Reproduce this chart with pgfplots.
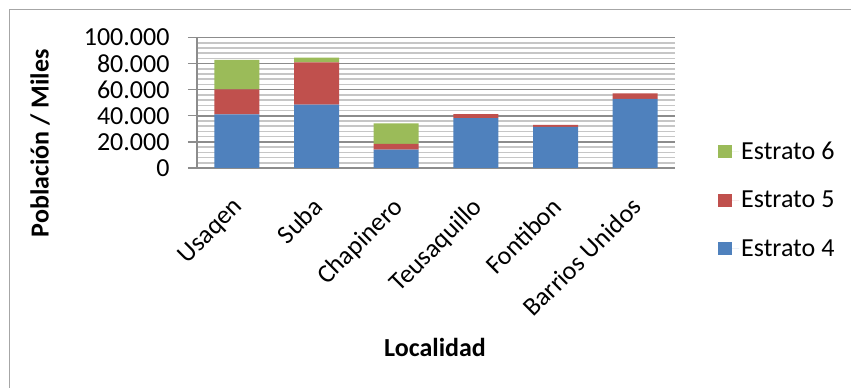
\documentclass[border=0pt]{standalone}
\usepackage{fontspec}
\setmainfont{Carlito}
\usepackage{pgfplots}
\pgfplotsset{compat=1.18}
\definecolor{est4}{HTML}{4F81BD}
\definecolor{est5}{HTML}{C0504D}
\definecolor{est6}{HTML}{9BBB59}
\definecolor{gridmaj}{HTML}{8C8C8C}
\definecolor{gridmin}{HTML}{C6C6C6}
\newcommand{\chartfont}{\fontsize{26bp}{30bp}\selectfont}
% square legend swatch, with a little room before the text
\pgfplotsset{sq legend/.style={legend image code/.code={%
  \fill[##1] (0bp,-6.5bp) rectangle (14bp,6.5bp);
  \path (0bp,0bp) -- (21bp,0bp);}}}

\begin{document}
\begin{tikzpicture}
\useasboundingbox (0,0) rectangle (851bp,388bp);
\draw[color=gray!70, line width=1.2bp] (9.5bp,0) -- (9.5bp,378.5bp) -- (851bp,378.5bp);
\begin{axis}[
  at={(197bp,220bp)}, anchor=south west,
  width=478bp, height=130.5bp, scale only axis,
  ybar stacked, bar width=45bp,
  xmin=-0.5, xmax=5.5, ymin=0, ymax=100000,
  axis x line*=bottom, axis y line*=left,
  axis line style={gridmaj, line width=1.6bp, -},
  xtick={0,...,5},
  xticklabels={Usaqen,Suba,Chapinero,Teusaquillo,Fontibon,Barrios Unidos},
  x tick label style={xshift=-5bp, yshift=-14bp, rotate=45, anchor=north east,
    font=\chartfont},
  major x tick style={draw=none},
  ytick={0,20000,40000,60000,80000,100000},
  yticklabels={0,20.000,40.000,60.000,80.000,100.000},
  y tick label style={font=\chartfont, xshift=-15bp},
  /pgf/number format/assume math mode=true,
  scaled y ticks=false,
  minor y tick num=4,
  tick align=outside,
  major tick length=9bp, minor tick length=0bp,
  y tick style={gridmaj, line width=1.4bp},
  ymajorgrids, yminorgrids,
  major grid style={gridmaj, line width=1.6bp},
  minor grid style={gridmin, line width=1.6bp},
  xlabel={Localidad},
  xlabel style={font=\bfseries\chartfont, at={(rel axis cs:0.498,-1.372)}, anchor=center},
  ylabel={Población / Miles},
  ylabel style={font=\bfseries\chartfont, at={(rel axis cs:-0.328,0.19)}, anchor=center},
  reverse legend,
  legend style={at={(rel axis cs:1.09,-0.245)}, anchor=west, draw=none, fill=none,
    inner sep=0pt, font=\chartfont, row sep=26bp, cells={anchor=west}},
]
\addplot+[fill=est4, draw=none, sq legend] coordinates
  {(0,41000) (1,48600) (2,14100) (3,38300) (4,31600) (5,53000)};
\addplot+[fill=est5, draw=none, sq legend] coordinates
  {(0,19300) (1,32400) (2,4400) (3,3000) (4,1500) (5,4200)};
\addplot+[fill=est6, draw=none, sq legend] coordinates
  {(0,22500) (1,3600) (2,15600) (3,0) (4,0) (5,0)};
\legend{Estrato 4, Estrato 5, Estrato 6}
\end{axis}
\end{tikzpicture}
\end{document}
